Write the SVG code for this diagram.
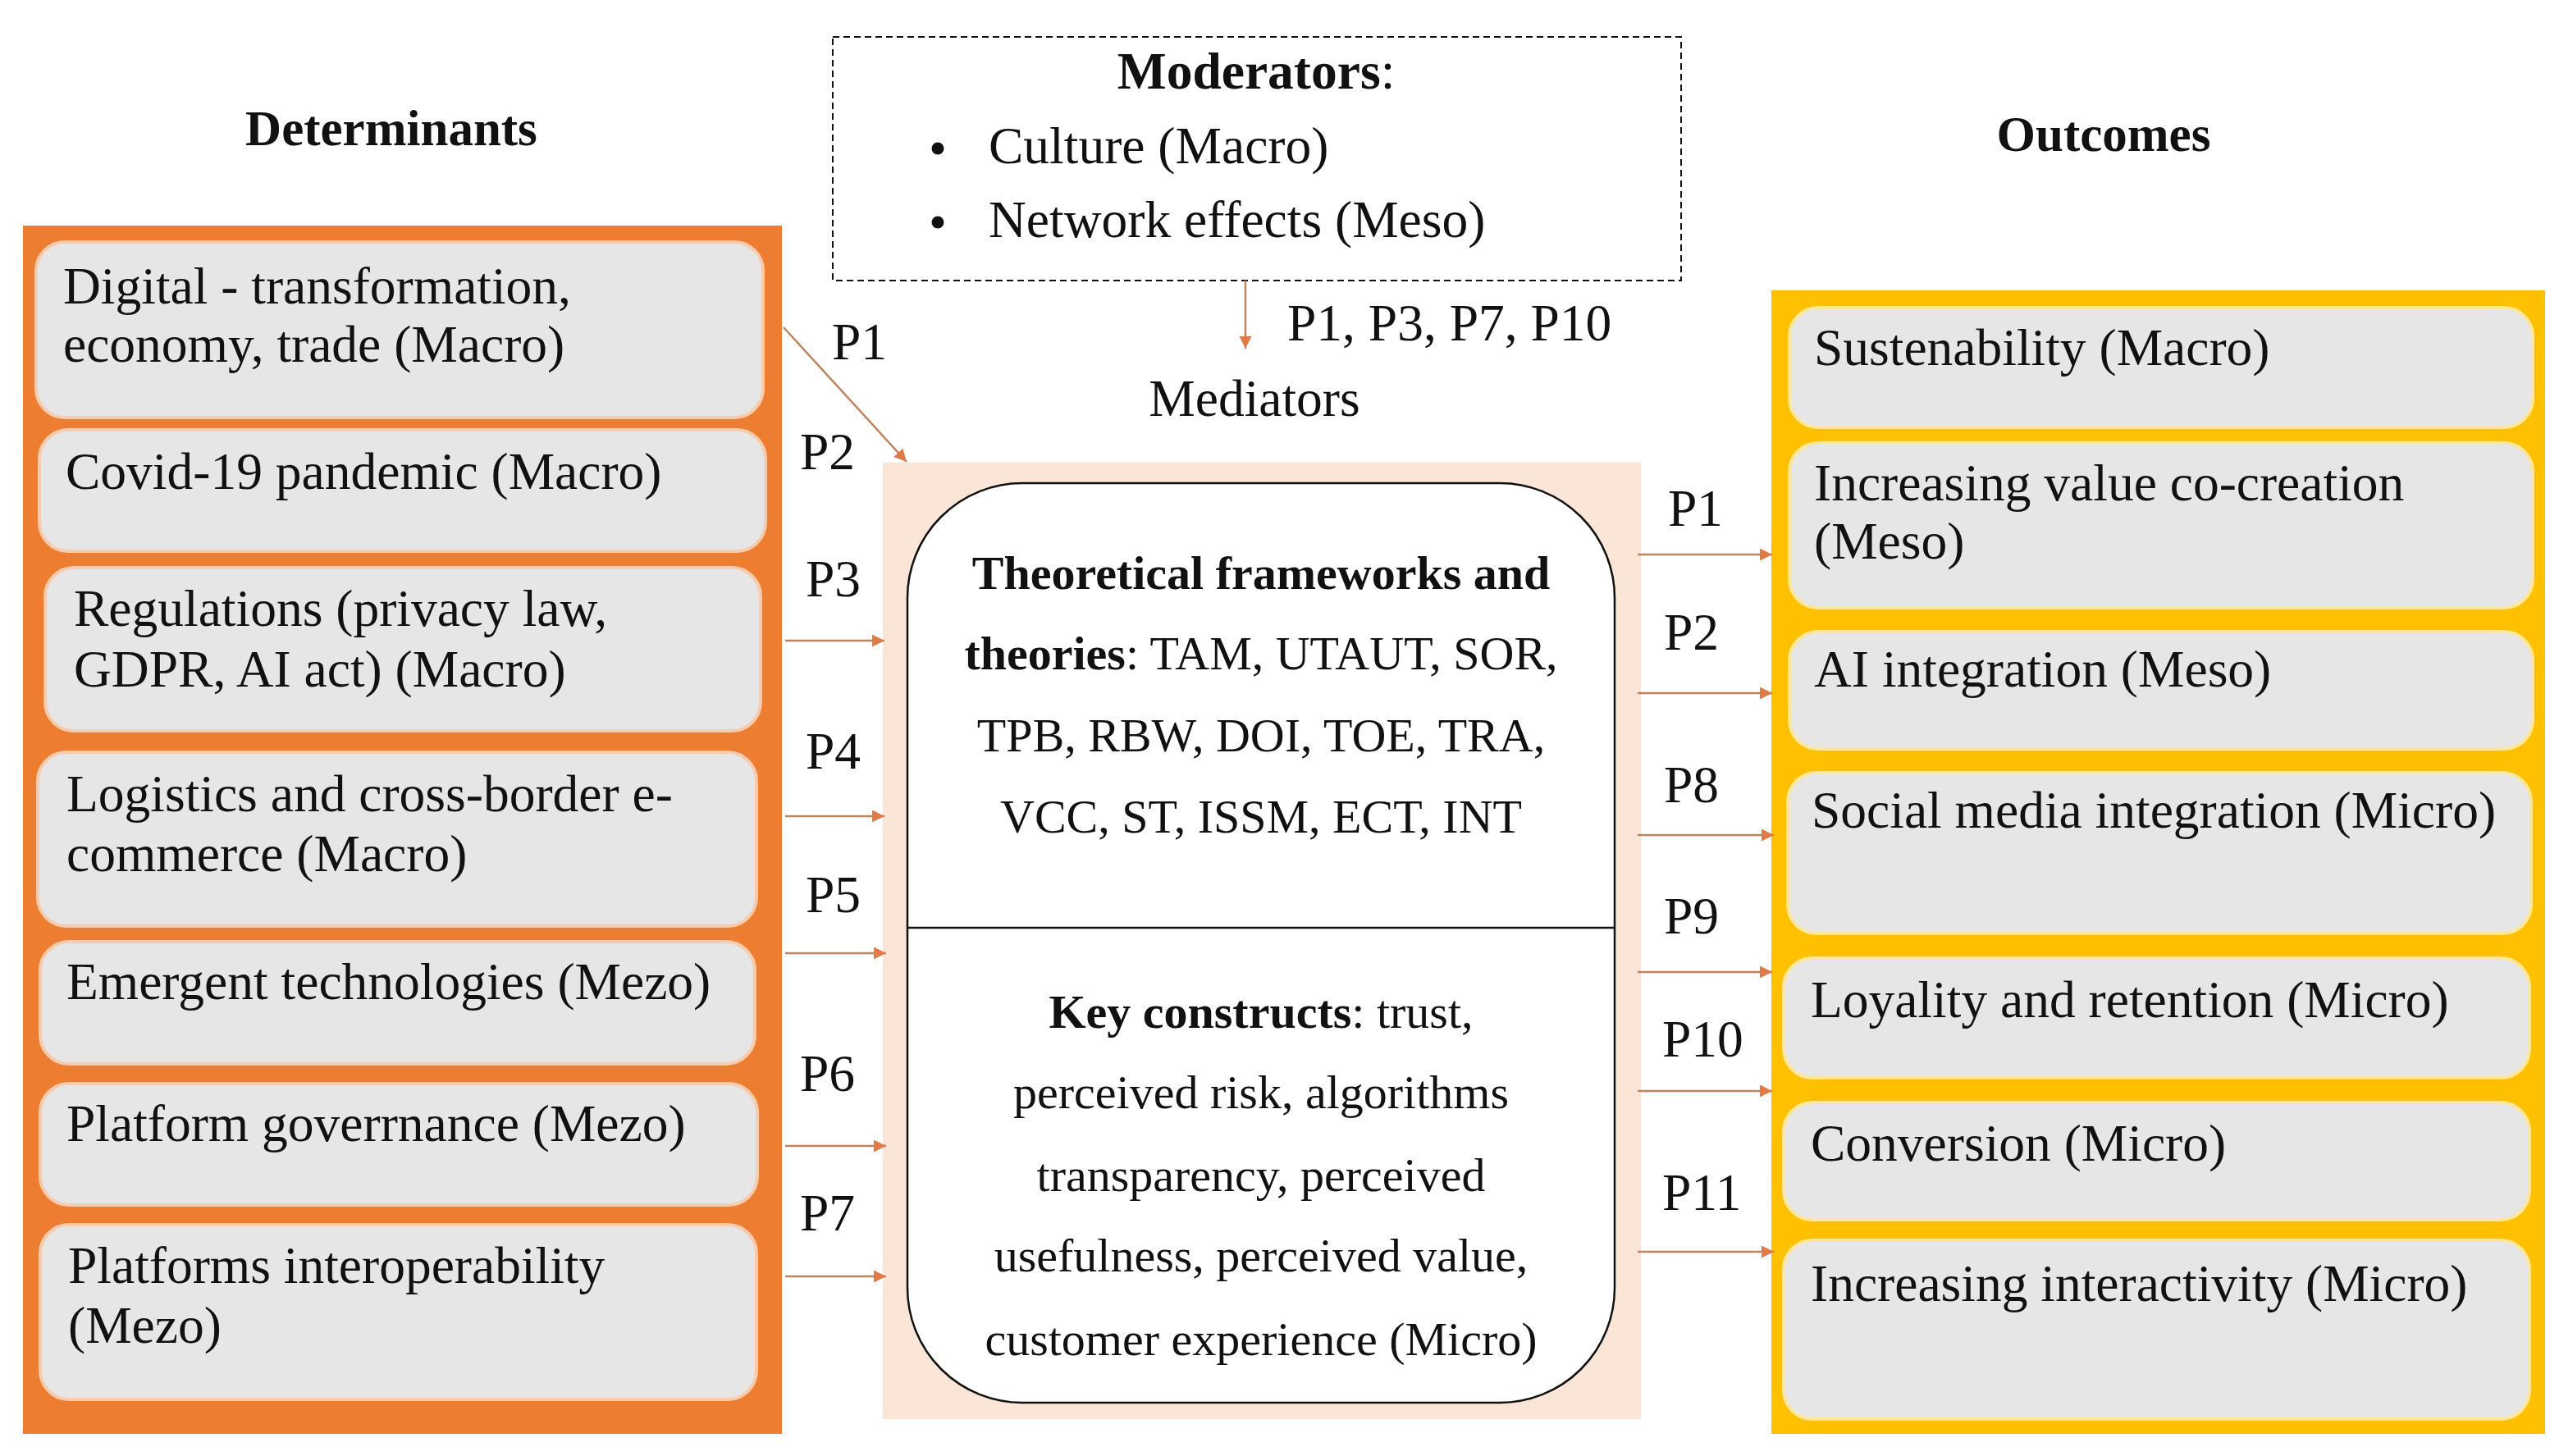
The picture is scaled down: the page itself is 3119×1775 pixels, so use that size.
<svg xmlns="http://www.w3.org/2000/svg" width="3119" height="1775" viewBox="0 0 3119 1775">
<defs>
<style>
.t{font-family:"Liberation Serif","Times New Roman",serif;font-size:63.5px;fill:#111}
.c{font-family:"Liberation Serif","Times New Roman",serif;font-size:58px;fill:#111;text-anchor:middle}
.b{font-weight:bold}
.h{font-family:"Liberation Serif","Times New Roman",serif;font-size:61px;font-weight:bold;fill:#111;text-anchor:middle}
.gb{fill:#E7E6E6;stroke:#F8CBAD;stroke-width:4}
.yb{fill:#E7E6E6;stroke:#FFE699;stroke-width:4}
.arr{stroke:#C08360;stroke-width:2.5;fill:none;marker-end:url(#ah)}
</style>
<marker id="ah" viewBox="0 0 10 10" refX="10" refY="5" markerWidth="7" markerHeight="6" markerUnits="strokeWidth" orient="auto">
<path d="M0,0 L10,5 L0,10 z" fill="#E07B45"/>
</marker>
</defs>
<rect width="3119" height="1775" fill="#fff"/>

<g id="titles">
<text class="h" x="477" y="177">Determinants</text>
<text class="h" x="2564" y="184">Outcomes</text>
</g>

<g id="moderators">
<rect x="1015" y="45" width="1034" height="297" fill="none" stroke="#111" stroke-width="2" stroke-dasharray="8 5"/>
<text class="t" x="1531" y="108" text-anchor="middle"><tspan class="b">Moderators</tspan>:</text>
<circle cx="1143" cy="181" r="7.5" fill="#111"/>
<text class="t" x="1205" y="199">Culture (Macro)</text>
<circle cx="1143" cy="271" r="7.5" fill="#111"/>
<text class="t" x="1205" y="289">Network effects (Meso)</text>
</g>

<g id="determinants">
<rect x="28" y="275" width="925" height="1473" fill="#ED7D31"/>
<g id="d1"><rect class="gb" x="44" y="295" width="886" height="214" rx="35"/>
<text class="t" x="77" y="370">Digital - transformation,</text>
<text class="t" x="77" y="441">economy, trade (Macro)</text></g>
<g id="d2"><rect class="gb" x="48" y="524" width="885" height="148" rx="35"/>
<text class="t" x="80" y="596">Covid-19 pandemic (Macro)</text></g>
<g id="d3"><rect class="gb" x="55" y="692" width="872" height="199" rx="35"/>
<text class="t" x="90" y="763">Regulations (privacy law,</text>
<text class="t" x="90" y="837">GDPR, AI act) (Macro)</text></g>
<g id="d4"><rect class="gb" x="46" y="917" width="876" height="212" rx="35"/>
<text class="t" x="81" y="989">Logistics and cross-border e-</text>
<text class="t" x="81" y="1062">commerce (Macro)</text></g>
<g id="d5"><rect class="gb" x="49" y="1148" width="871" height="149" rx="35"/>
<text class="t" x="81" y="1218">Emergent technologies (Mezo)</text></g>
<g id="d6"><rect class="gb" x="49" y="1321" width="874" height="148" rx="35"/>
<text class="t" x="81" y="1391">Platform goverrnance (Mezo)</text></g>
<g id="d7"><rect class="gb" x="49" y="1493" width="873" height="213" rx="35"/>
<text class="t" x="83" y="1564">Platforms interoperability</text>
<text class="t" x="83" y="1637">(Mezo)</text></g>
</g>

<g id="mediators">
<text class="t" x="1529" y="507" text-anchor="middle">Mediators</text>
<rect x="1076" y="564" width="924" height="1166" fill="#FBE5D6"/>
<rect x="1106" y="589" width="862" height="1121" rx="140" ry="140" fill="#fff" stroke="#111" stroke-width="2.5"/>
<line x1="1106" y1="1131" x2="1968" y2="1131" stroke="#111" stroke-width="2.5"/>
<text class="c" x="1537" y="718"><tspan class="b">Theoretical frameworks and</tspan></text>
<text class="c" x="1537" y="816"><tspan class="b">theories</tspan>: TAM, UTAUT, SOR,</text>
<text class="c" x="1537" y="916">TPB, RBW, DOI, TOE, TRA,</text>
<text class="c" x="1537" y="1015">VCC, ST, ISSM, ECT, INT</text>
<text class="c" x="1537" y="1253"><tspan class="b">Key constructs</tspan>: trust,</text>
<text class="c" x="1537" y="1351">perceived risk, algorithms</text>
<text class="c" x="1537" y="1452">transparency, perceived</text>
<text class="c" x="1537" y="1550">usefulness, perceived value,</text>
<text class="c" x="1537" y="1652">customer experience (Micro)</text>
</g>

<g id="outcomes">
<rect x="2159" y="354" width="943" height="1394" fill="#FFC000"/>
<g id="o1"><rect class="yb" x="2181" y="375" width="906" height="146" rx="35"/>
<text class="t" x="2211" y="445">Sustenability (Macro)</text></g>
<g id="o2"><rect class="yb" x="2181" y="540" width="906" height="201" rx="35"/>
<text class="t" x="2211" y="610">Increasing value co-creation</text>
<text class="t" x="2211" y="681">(Meso)</text></g>
<g id="o3"><rect class="yb" x="2181" y="770" width="906" height="143" rx="35"/>
<text class="t" x="2211" y="837">AI integration (Meso)</text></g>
<g id="o4"><rect class="yb" x="2179" y="942" width="906" height="196" rx="35"/>
<text class="t" x="2208" y="1009">Social media integration (Micro)</text></g>
<g id="o5"><rect class="yb" x="2174" y="1168" width="909" height="146" rx="35"/>
<text class="t" x="2207" y="1240">Loyality and retention (Micro)</text></g>
<g id="o6"><rect class="yb" x="2174" y="1344" width="909" height="143" rx="35"/>
<text class="t" x="2207" y="1415">Conversion (Micro)</text></g>
<g id="o7"><rect class="yb" x="2174" y="1512" width="909" height="218" rx="35"/>
<text class="t" x="2207" y="1586">Increasing interactivity (Micro)</text></g>
</g>

<g id="connectors">
<line class="arr" x1="1518" y1="342" x2="1518" y2="425"/>
<line class="arr" x1="955" y1="399" x2="1105" y2="563"/>
<line class="arr" x1="957" y1="781" x2="1078" y2="781"/>
<line class="arr" x1="957" y1="995" x2="1078" y2="995"/>
<line class="arr" x1="957" y1="1162" x2="1080" y2="1162"/>
<line class="arr" x1="957" y1="1397" x2="1080" y2="1397"/>
<line class="arr" x1="957" y1="1556" x2="1080" y2="1556"/>
<line class="arr" x1="1996" y1="676" x2="2160" y2="676"/>
<line class="arr" x1="1996" y1="845" x2="2160" y2="845"/>
<line class="arr" x1="1996" y1="1018" x2="2162" y2="1018"/>
<line class="arr" x1="1996" y1="1185" x2="2160" y2="1185"/>
<line class="arr" x1="1996" y1="1330" x2="2160" y2="1330"/>
<line class="arr" x1="1996" y1="1526" x2="2162" y2="1526"/>
</g>

<g id="labels">
<text class="t" x="1569" y="415">P1, P3, P7, P10</text>
<text class="t" x="1014" y="438">P1</text>
<text class="t" x="975" y="572">P2</text>
<text class="t" x="982" y="727">P3</text>
<text class="t" x="982" y="937">P4</text>
<text class="t" x="982" y="1112">P5</text>
<text class="t" x="975" y="1330">P6</text>
<text class="t" x="975" y="1500">P7</text>
<text class="t" x="2033" y="641">P1</text>
<text class="t" x="2028" y="792">P2</text>
<text class="t" x="2028" y="978">P8</text>
<text class="t" x="2028" y="1138">P9</text>
<text class="t" x="2026" y="1288">P10</text>
<text class="t" x="2026" y="1475">P11</text>
</g>
</svg>
